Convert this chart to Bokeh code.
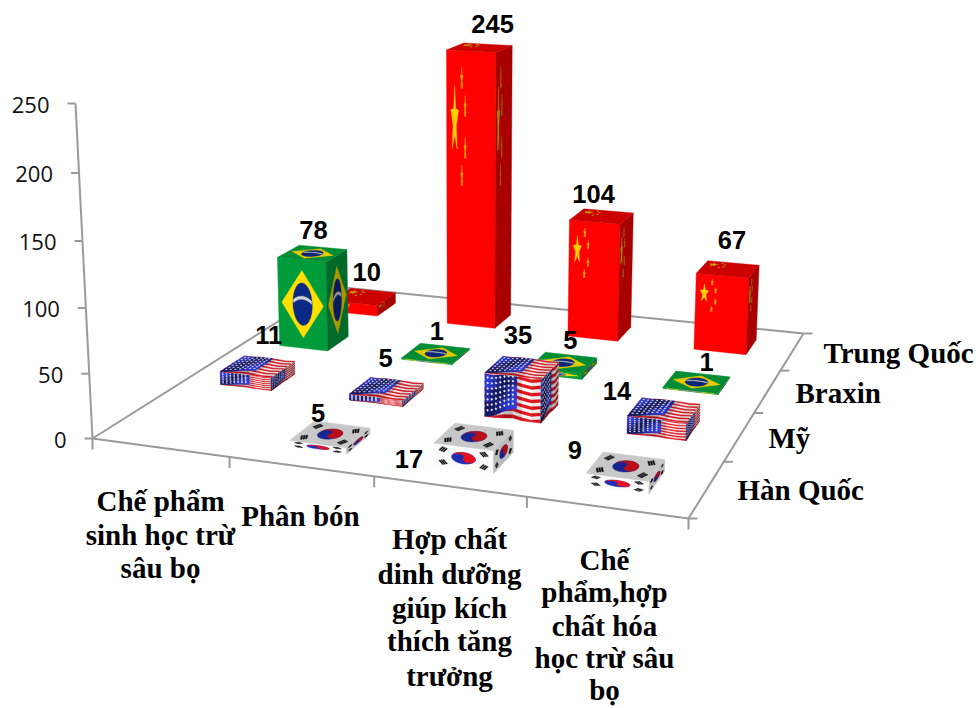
import math
import numpy as np
from bokeh.core.properties import value
from bokeh.embed import file_html
from bokeh.models import ColumnDataSource
from bokeh.plotting import figure
from bokeh.resources import INLINE

# Chart data
categories = [
    ["Chế phẩm", "sinh học trừ", "sâu bọ"],
    ["Phân bón"],
    ["Hợp chất", "dinh dưỡng", "giúp kích", "thích tăng", "trưởng"],
    ["Chế", "phẩm,hợp", "chất hóa", "học trừ sâu", "bọ"],
]
countries = ["Hàn Quốc", "Mỹ", "Braxin", "Trung Quốc"]
han_quoc = [None, 5, 17, 9]
my = [11, 5, 35, 14]
braxin = [78, 1, 5, 1]
trung_quoc = [10, 245, 104, 67]
value_ticks = [0, 50, 100, 150, 200, 250]

series = [("korea", han_quoc), ("usa", my), ("brazil", braxin), ("china", trung_quoc)]

# Layout: perspective set-up of the floor and the vertical axis
FLOOR = [(92, 438), (688, 518), (803, 333), (333, 286)]
VANISH = (466.0, 7800.0)
TOP_OF_AXIS_Y = 103.0
HALF_U, HALF_V = 0.2, 0.2
BAR_SHIFT_U = -0.015
GREY = "#9a9a9a"

# Data label offsets from the centre of each bar's top face, by (row, column)
label_offsets = {
    (3, 0): (3, -25), (3, 1): (13, -24), (3, 2): (-8, -22), (3, 3): (4, -29),
    (2, 0): (1, -23), (2, 1): (1, -22), (2, 2): (7, -23), (2, 3): (10, -20),
    (1, 0): (11, -31), (1, 1): (-1, -31), (1, 2): (-4, -32), (1, 3): (-47, -19),
    (0, 1): (-12, -21), (0, 2): (-65, 22), (0, 3): (-51, -16),
}


def floor_matrix():
    src = [(0, 0), (4, 0), (4, 4), (0, 4)]
    rows, rhs = [], []
    for (u, v), (x, y) in zip(src, FLOOR):
        rows.append([u, v, 1, 0, 0, 0, -u * x, -v * x])
        rows.append([0, 0, 0, u, v, 1, -u * y, -v * y])
        rhs += [x, y]
    h = np.linalg.solve(np.array(rows, float), np.array(rhs, float))
    return np.array([[h[0], h[1], h[2]], [h[3], h[4], h[5]], [h[6], h[7], 1.0]])


H = floor_matrix()
A_Z = -(FLOOR[0][1] - TOP_OF_AXIS_Y) / (VANISH[1] - TOP_OF_AXIS_Y)
Z_DIR = np.array([VANISH[0], VANISH[1], 1.0]) * A_Z / 250.0


def project(u, v, z):
    q = H @ np.array([u, v, 1.0]) + z * Z_DIR
    return q[0] / q[2], q[1] / q[2]


# Flag artwork in face coordinates: s runs rightwards, t downwards, both 0..1
def ellipse(cx, cy, rx, ry, n=28):
    return [(cx + rx * math.cos(2 * math.pi * i / n), cy + ry * math.sin(2 * math.pi * i / n))
            for i in range(n + 1)]


def star(cx, cy, rx, ry):
    pts = []
    for i in range(10):
        r = 1.0 if i % 2 == 0 else 0.42
        a = -math.pi / 2 + i * math.pi / 5
        pts.append((cx + rx * r * math.cos(a), cy + ry * r * math.sin(a)))
    return pts


def china_art():
    art = [("#ff0000", [(0, 0), (1, 0), (1, 1), (0, 1)])]
    art.append(("#ffd000", star(0.165, 0.25, 0.085, 0.125)))
    for cx, cy in [(0.31, 0.10), (0.38, 0.20), (0.38, 0.35), (0.31, 0.45)]:
        art.append(("#f2b400", star(cx, cy, 0.024, 0.042)))
    return art


def brazil_art():
    art = [("#009c3b", [(0, 0), (1, 0), (1, 1), (0, 1)])]
    art.append(("#fedf00", [(0.07, 0.5), (0.5, 0.12), (0.93, 0.5), (0.5, 0.88)]))
    art.append(("#0b2a86", ellipse(0.5, 0.5, 0.2, 0.24)))
    band = [(s, 0.41 + 1.25 * (s - 0.5) ** 2) for s in np.linspace(0.31, 0.69, 9)]
    lower = [(s, t + 0.035) for s, t in reversed(band)]
    art.append(("#cfd8d0", band + lower))
    return art


def usa_art():
    def wave(t, s):
        return min(1.0, max(0.0, t + 0.04 * math.sin(2 * math.pi * (1.4 * s + 0.1))))

    def fold(s, t=0.0):
        return 0.7 + 0.3 * math.cos(2 * math.pi * (1.4 * s - 0.1 + 0.5 * t))

    def canton_bottom(s):
        return 0.98 - 0.38 * s

    art = [("#f4f4f4", [(0, 0), (1, 0), (1, 1), (0, 1)])]
    edges = np.linspace(0, 1, 7)
    for k in range(13):
        t0, t1 = k / 13, (k + 1) / 13
        for s0, s1 in zip(edges[:-1], edges[1:]):
            tone = fold(0.5 * (s0 + s1))
            base = (235, 20, 30) if k % 2 == 0 else (255, 255, 255)
            col = "#%02x%02x%02x" % tuple(int(c * (0.55 + 0.45 * tone)) for c in base)
            art.append((col, [(s0, wave(t0, s0)), (s1, wave(t0, s1)), (s1, wave(t1, s1)), (s0, wave(t1, s0))]))
    canton_s = np.linspace(0, 0.57, 7)
    rows = np.linspace(0, 1, 4)
    for s0, s1 in zip(canton_s[:-1], canton_s[1:]):
        for r0, r1 in zip(rows[:-1], rows[1:]):
            tone = fold(0.5 * (s0 + s1), 0.5 * (r0 + r1))
            col = "#%02x%02x%02x" % (int(46 * tone), int(60 * tone), int(222 * tone))
            art.append((col, [(s0, wave(r0 * canton_bottom(s0), s0)), (s1, wave(r0 * canton_bottom(s1), s1)),
                              (s1, wave(r1 * canton_bottom(s1), s1)), (s0, wave(r1 * canton_bottom(s0), s0))]))
    for r in range(7):
        for c in range(7):
            cx = 0.05 + c * 0.075
            cy = wave((0.07 + r * 0.13) * canton_bottom(cx), cx)
            art.append(("#eef0ff", ellipse(cx, cy, 0.016, 0.024, n=6)))
    return art


def korea_art():
    art = [("#fbfbfb", [(0, 0), (1, 0), (1, 1), (0, 1)])]
    rx, ry = 0.2, 0.25
    art.append(("#1f2fb4", ellipse(0.5, 0.5, rx, ry)))
    ang = math.radians(25)
    outline = []
    for i in range(25):
        a = math.pi + math.pi * i / 24
        outline.append((math.cos(a), math.sin(a)))
    for i in range(13):
        a = math.pi * i / 12
        outline.append((0.5 + 0.5 * math.cos(a), 0.5 * math.sin(a)))
    for i in range(13):
        a = math.pi * i / 12
        outline.append((-0.5 + 0.5 * math.cos(a), -0.5 * math.sin(a)))
    pts = []
    for x, y in outline:
        xr = x * math.cos(ang) - y * math.sin(ang)
        yr = x * math.sin(ang) + y * math.cos(ang)
        pts.append((0.5 + rx * xr, 0.5 + ry * yr))
    art.append(("#e8121f", pts))
    # Trigrams: three short bars square to the line running out from the centre
    for cx, cy in [(0.16, 0.22), (0.84, 0.22), (0.16, 0.78), (0.84, 0.78)]:
        dx, dy = (cx - 0.5) * 1.5, cy - 0.5
        n = math.hypot(dx, dy)
        dx, dy = dx / n, dy / n
        ex, ey = -dy, dx
        for k in (-1, 0, 1):
            mx, my_ = cx * 1.5 + k * 0.055 * dx, cy + k * 0.055 * dy
            quad = []
            for a, b in [(-1, -1), (1, -1), (1, 1), (-1, 1)]:
                quad.append(((mx + a * 0.095 * ex + b * 0.018 * dx) / 1.5, my_ + a * 0.095 * ey + b * 0.018 * dy))
            art.append(("#111111", quad))
    return art


ART = {"china": china_art(), "brazil": brazil_art(), "usa": usa_art(), "korea": korea_art()}
SHADES = {
    "china": (1.0, 0.66, 0.8),
    "brazil": (1.0, 0.68, 0.9),
    "usa": (1.0, 0.72, 0.95),
    "korea": (1.0, 0.75, 0.8),
}


def shaded(col, k):
    r, g, b = (int(col[i:i + 2], 16) for i in (1, 3, 5))
    return "#%02x%02x%02x" % (int(r * k), int(g * k), int(b * k))


def paint_face(xs, ys, colors, corners, flag, shade):
    tl, tr, br, bl = [np.array(c, float) for c in corners]
    for col, poly in ART[flag]:
        px, py = [], []
        for s, t in poly:
            top = tl + (tr - tl) * s
            bottom = bl + (br - bl) * s
            x, y = project(*(top + (bottom - top) * t))
            px.append(x)
            py.append(y)
        xs.append(px)
        ys.append(py)
        colors.append(shaded(col, shade))


xs, ys, colors = [], [], []
data_labels = []
for row in range(3, -1, -1):
    flag, vals = series[row]
    for col, val in enumerate(vals):
        if val is None:
            continue
        cu, cv = col + 0.5 + BAR_SHIFT_U, row + 0.5
        u0, u1, v0, v1 = cu - HALF_U, cu + HALF_U, cv - HALF_V, cv + HALF_V
        sf, ss, st = SHADES[flag]
        paint_face(xs, ys, colors, [(u0, v0, val), (u1, v0, val), (u1, v0, 0), (u0, v0, 0)], flag, sf)
        paint_face(xs, ys, colors, [(u1, v0, val), (u1, v1, val), (u1, v1, 0), (u1, v0, 0)], flag, ss)
        paint_face(xs, ys, colors, [(u0, v1, val), (u1, v1, val), (u1, v0, val), (u0, v0, val)], flag, st)
        tx, ty = project(cu, cv, val)
        dx, dy = label_offsets[(row, col)]
        data_labels.append((tx + dx, ty + dy, str(val)))

p = figure(width=980, height=708, x_range=(0, 980), y_range=(708, 0),
           output_backend="svg", toolbar_location=None, min_border=0)
p.xaxis.visible = False
p.yaxis.visible = False
p.grid.visible = False
p.outline_line_color = None

# Floor outline and tick marks
edges = [[(0, 0), (4, 0)], [(4, 0), (4, 4)], [(4, 4), (0, 4)], [(0, 4), (0, 0)]]
for (a, b) in edges:
    x0, y0 = project(a[0], a[1], 0)
    x1, y1 = project(b[0], b[1], 0)
    p.line([x0, x1], [y0, y1], line_color=GREY, line_width=2)
for i in range(5):
    x0, y0 = project(i, 0, 0)
    p.line([x0, x0], [y0, y0 + 11], line_color=GREY, line_width=2)
    x0, y0 = project(4, i, 0)
    p.line([x0, x0 + 9], [y0, y0], line_color=GREY, line_width=2)

# Value axis
x0, y0 = project(0, 0, value_ticks[0])
x1, y1 = project(0, 0, value_ticks[-1])
p.line([x0, x1], [y0, y1], line_color=GREY, line_width=2)
for tick in value_ticks:
    tx, ty = project(0, 0, tick)
    p.line([tx - 8, tx], [ty, ty], line_color=GREY, line_width=2)
    p.text([tx - 26], [ty + 1], [str(tick)], text_font=value("Open Sans"), text_font_size="22px",
           text_color="#111111", text_align="right", text_baseline="middle")

# Bars, drawn back to front
p.patches(xs="xs", ys="ys", fill_color="colors", line_color="colors", line_width=0.4,
          source=ColumnDataSource(dict(xs=xs, ys=ys, colors=colors)))

# Data labels
for x, y, txt in data_labels:
    p.text([x], [y], [txt], text_font=value("Liberation Sans"), text_font_style="bold",
           text_font_size="25.5px", text_color="#000000", text_align="center", text_baseline="middle")

# Category labels
category_x = [160, 300, 449, 604]
category_y = [[500, 534, 567], [515], [538, 573, 607, 640, 675], [559, 591, 625, 657, 689]]
for lines, cx, cys in zip(categories, category_x, category_y):
    for line, cy in zip(lines, cys):
        p.text([cx], [cy], [line], text_font=value("Liberation Serif"), text_font_style="bold",
               text_font_size="29px", text_color="#000000", text_align="center", text_baseline="middle")

# Series labels along the depth axis
country_x = [737, 768, 795, 823]
country_y = [489, 437, 392, 352]
for name, cx, cy in zip(countries, country_x, country_y):
    p.text([cx], [cy], [name], text_font=value("Liberation Serif"), text_font_style="bold",
           text_font_size="29px", text_color="#000000", text_align="left", text_baseline="middle")

open("out.html", "w").write(file_html(p, INLINE))
